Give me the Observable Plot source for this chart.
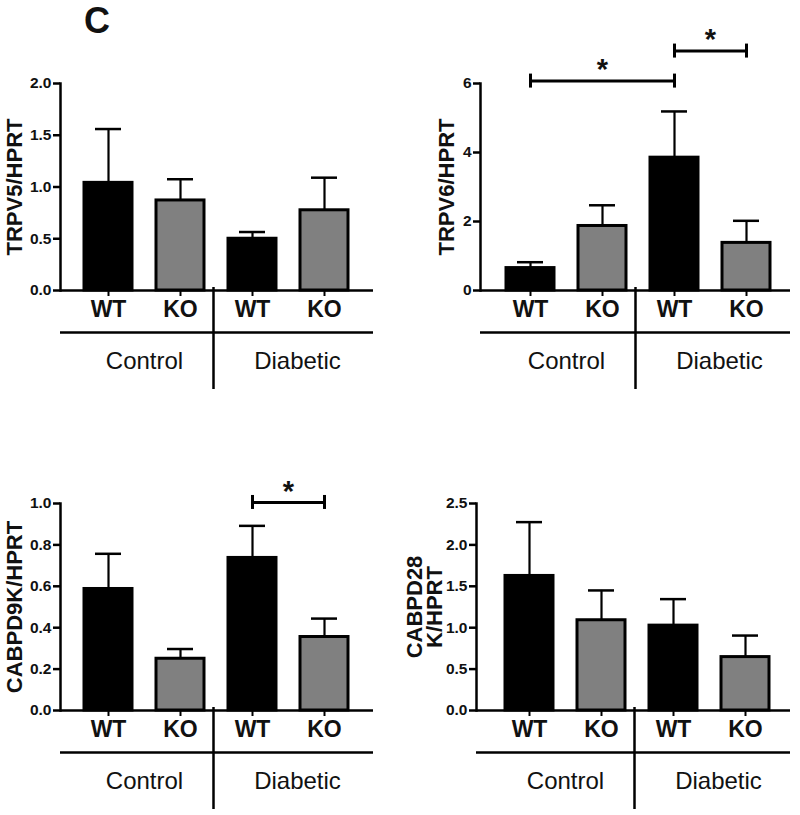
<!DOCTYPE html>
<html>
<head>
<meta charset="utf-8">
<script src="https://cdn.jsdelivr.net/npm/d3@7"></script>
<script src="https://cdn.jsdelivr.net/npm/@observablehq/plot@0.6"></script>
<style>
  html, body { margin: 0; padding: 0; background: #fff; }
  #root { position: relative; width: 800px; height: 815px; background: #fff; overflow: hidden; }
  .panel { position: absolute; }
  #letter { position: absolute; left: 84px; top: 3px; font: bold 36px/36px "Liberation Sans", Arial, sans-serif; color: #111; }
</style>
</head>
<body>
<div id="root"><div id="letter">C</div></div>
<script>
// ---- data ----
const keys = ["C-WT", "C-KO", "D-WT", "D-KO"];
const genotypes = ["WT", "KO", "WT", "KO"];
const groups = ["Control", "Control", "Diabetic", "Diabetic"];
const groupNames = ["Control", "Diabetic"];

const trpv5Mean = [1.04, 0.87, 0.50, 0.775];
const trpv5Upper = [1.56, 1.075, 0.565, 1.09];

const trpv6Mean = [0.65, 1.87, 3.85, 1.38];
const trpv6Upper = [0.82, 2.47, 5.19, 2.02];

const cabpd9kMean = [0.587, 0.25, 0.737, 0.355];
const cabpd9kUpper = [0.757, 0.297, 0.892, 0.444];

const cabpd28kMean = [1.625, 1.09, 1.025, 0.645];
const cabpd28kUpper = [2.275, 1.45, 1.345, 0.905];

const trpv5Ticks = [0, 0.5, 1.0, 1.5, 2.0];
const trpv6Ticks = [0, 2, 4, 6];
const cabpd9kTicks = [0, 0.2, 0.4, 0.6, 0.8, 1.0];
const cabpd28kTicks = [0, 0.5, 1.0, 1.5, 2.0, 2.5];

const trpv6Brackets = [
  {from: "C-WT", to: "D-WT", y: 6.07, span: 2},
  {from: "D-WT", to: "D-KO", y: 6.94, span: 1}
];
const cabpd9kBrackets = [
  {from: "D-WT", to: "D-KO", y: 1.005, span: 1}
];

const colorWT = "#000000";
const colorKO = "#808080";
const fontFamily = "'Liberation Sans', Arial, Helvetica, sans-serif";

function panel(cfg) {
  const data = keys.map((k, i) => ({
    key: k, genotype: genotypes[i], group: groups[i],
    mean: cfg.mean[i], upper: cfg.upper[i]
  }));
  const step = 72;
  const marks = [
    Plot.barY(data, {
      x: "key", y: "mean",
      fill: d => d.genotype === "WT" ? colorWT : colorKO,
      stroke: "#000", strokeWidth: 3
    }),
    Plot.ruleX(data, {x: "key", y1: "mean", y2: "upper", stroke: "#000", strokeWidth: 2.2}),
    Plot.tickY(data, {x: "key", y: "upper", stroke: "#000", strokeWidth: 2.5, insetLeft: 11, insetRight: 11}),
    Plot.ruleY([0], {stroke: "#000", strokeWidth: 2.5}),
    Plot.frame({anchor: "left", stroke: "#000", strokeWidth: 2.5}),
    Plot.axisY(cfg.ticks, {
      tickSize: 7, tickPadding: 2, fontSize: 15.5, fontWeight: "bold",
      strokeWidth: 2.5, tickFormat: cfg.format, label: null, fill: "#111"
    }),
    Plot.axisX({
      tickSize: 6, tickPadding: 4, fontSize: 23, fontWeight: "bold",
      strokeWidth: 2, tickFormat: k => genotypes[keys.indexOf(k)], label: null, fill: "#111"
    }),
    Plot.text([cfg.label], {
      frameAnchor: "left", textAnchor: "middle", lineAnchor: "middle", rotate: -90, dx: cfg.labelDx,
      fontSize: 22, fontWeight: "bold", lineHeight: 0.92, fill: "#111"
    }),
    // group annotation below the axis
    Plot.ruleY([0], {dy: 42, stroke: "#000", strokeWidth: 2.5}),
    Plot.ruleX(["C-KO"], {x: d => d, y1: 0, y2: 0, dx: 33, insetTop: -3, insetBottom: -99, stroke: "#000", strokeWidth: 2.5}),
    Plot.text([groupNames[0]], {x: () => "C-WT", y: 0, dx: step / 2, dy: 71, fontSize: 24, fill: "#111"}),
    Plot.text([groupNames[1]], {x: () => "D-WT", y: 0, dx: step / 2 + 9, dy: 71, fontSize: 24, fill: "#111"})
  ];
  for (const b of (cfg.brackets || [])) {
    marks.push(
      Plot.link([b], {x1: "from", x2: "to", y1: "y", y2: "y", stroke: "#000", strokeWidth: 3}),
      Plot.ruleX([b.from, b.to], {x: d => d, y1: () => b.y, y2: () => b.y, insetTop: -7, insetBottom: -7, stroke: "#000", strokeWidth: 3}),
      Plot.text([b], {x: "from", y: "y", text: () => "*", dx: step * b.span / 2, dy: -11, fontSize: 29, fontWeight: "bold", fill: "#111"})
    );
  }
  const chart = Plot.plot({
    width: 400,
    height: 395,
    marginTop: 83,
    marginBottom: 105,
    marginLeft: cfg.marginLeft,
    marginRight: cfg.marginRight,
    style: {fontFamily, background: "transparent", overflow: "visible", color: "#000"},
    x: {type: "band", domain: keys, paddingInner: 0.333, paddingOuter: cfg.paddingOuter, align: cfg.align, axis: null},
    y: {domain: [0, cfg.yMax], axis: null},
    color: {type: "identity"},
    marks
  });
  chart.classList.add("panel");
  chart.style.left = cfg.left + "px";
  chart.style.top = cfg.top + "px";
  chart.style.position = "absolute";
  document.getElementById("root").appendChild(chart);
}

panel({
  label: "TRPV5/HPRT", mean: trpv5Mean, upper: trpv5Upper, ticks: trpv5Ticks,
  yMax: 2.0, format: d3.format(".1f"),
  left: 0, top: 0, marginLeft: 60, marginRight: 27, paddingOuter: 0.34, align: 0.5, labelDx: -45
});
panel({
  label: "TRPV6/HPRT", mean: trpv6Mean, upper: trpv6Upper, ticks: trpv6Ticks,
  yMax: 6, format: d3.format("d"), brackets: trpv6Brackets,
  left: 400, top: 0, marginLeft: 80, marginRight: 10, paddingOuter: 0.311, align: 0.556, labelDx: -33
});
panel({
  label: "CABPD9K/HPRT", mean: cabpd9kMean, upper: cabpd9kUpper, ticks: cabpd9kTicks,
  yMax: 1.0, format: d3.format(".1f"), brackets: cabpd9kBrackets,
  left: 0, top: 420, marginLeft: 60, marginRight: 27, paddingOuter: 0.34, align: 0.5, labelDx: -45
});
panel({
  label: "CABPD28\nK/HPRT", mean: cabpd28kMean, upper: cabpd28kUpper, ticks: cabpd28kTicks,
  yMax: 2.5, format: d3.format(".1f"),
  left: 400, top: 420, marginLeft: 76, marginRight: 10, paddingOuter: 0.338, align: 0.59, labelDx: -51
});
</script>
</body>
</html>
